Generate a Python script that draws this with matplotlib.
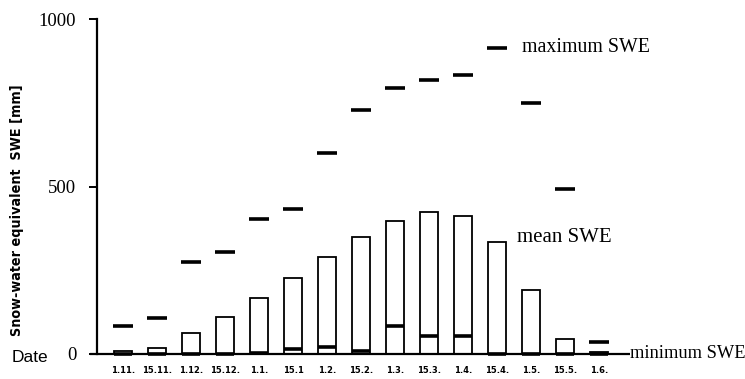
import matplotlib
matplotlib.use("Agg")
import matplotlib.pyplot as plt
import numpy as np

dates = ["1.11.", "15.11.", "1.12.", "15.12.", "1.1.", "15.1", "1.2.", "15.2.",
         "1.3.", "15.3.", "1.4.", "15.4.", "1.5.", "15.5.", "1.6."]
max_swe = [85, 106, 275, 305, 403, 433, 601, 729, 793, 818, 833, 914, 748, 492, 35]
mean_swe = [8, 17, 62, 111, 166, 228, 290, 350, 397, 425, 412, 333, 191, 44, 5]
min_swe = [0, 0, 0, 0, 2, 15, 20, 10, 84, 54, 54, 0, 0, 0, 0]
yticks = [0, 500, 1000]

W, H = 745, 379
fig = plt.figure(figsize=(W / 100, H / 100), dpi=100)
ax = fig.add_axes([97 / W, 25 / H, 1 - 97 / W, 335 / H])

x = np.arange(len(dates))
bw = 0.54
dw = 0.58

ax.bar(x, mean_swe, width=bw, bottom=0, facecolor="white", edgecolor="black",
       linewidth=1.3, clip_on=False, zorder=2)
ax.hlines(min_swe, x - bw / 2, x + bw / 2, colors="black", linewidth=2.6,
          clip_on=False, zorder=3)
ax.hlines(max_swe, x - dw / 2, x + dw / 2, colors="black", linewidth=2.6,
          clip_on=False, zorder=3)

# baseline extending to the "minimum SWE" label
ax.hlines(0, -0.97, 14.9, colors="black", linewidth=1.6, clip_on=False, zorder=4)

ax.set_xlim(-0.765, (W - 123) / 34)
ax.set_ylim(0, 1000)

for s in ["top", "right", "bottom"]:
    ax.spines[s].set_visible(False)
ax.spines["left"].set_linewidth(1.6)

ax.set_yticks(yticks)
ax.set_yticklabels([str(v) for v in yticks], family="Liberation Serif", fontsize=13.5)
ax.tick_params(axis="y", direction="out", length=6, width=1.4, pad=9)

ax.set_xticks(x)
ax.set_xticklabels(dates, family="DejaVu Sans", fontweight="bold", fontsize=6)
ax.tick_params(axis="x", length=0, pad=8.5)

fig.text(17 / W, 1 - 210 / H, "Snow-water equivalent  SWE [mm]", rotation=90,
         ha="center", va="center", family="DejaVu Sans", fontstretch="condensed",
         fontweight="bold", fontsize=10.3)
fig.text(12 / W, 1 - 357 / H, "Date", ha="left", va="center",
         family="Liberation Sans", fontsize=12.5)

fig.text(522 / W, 1 - 47 / H, "maximum SWE", ha="left", va="center",
         family="Liberation Serif", fontsize=14.3)
fig.text(517 / W, 1 - 237 / H, "mean SWE", ha="left", va="center",
         family="Liberation Serif", fontsize=15)
fig.text(630 / W, 1 - 353 / H, "minimum SWE", ha="left", va="center",
         family="Liberation Serif", fontsize=13.2)

fig.savefig("out.png", dpi=100)
